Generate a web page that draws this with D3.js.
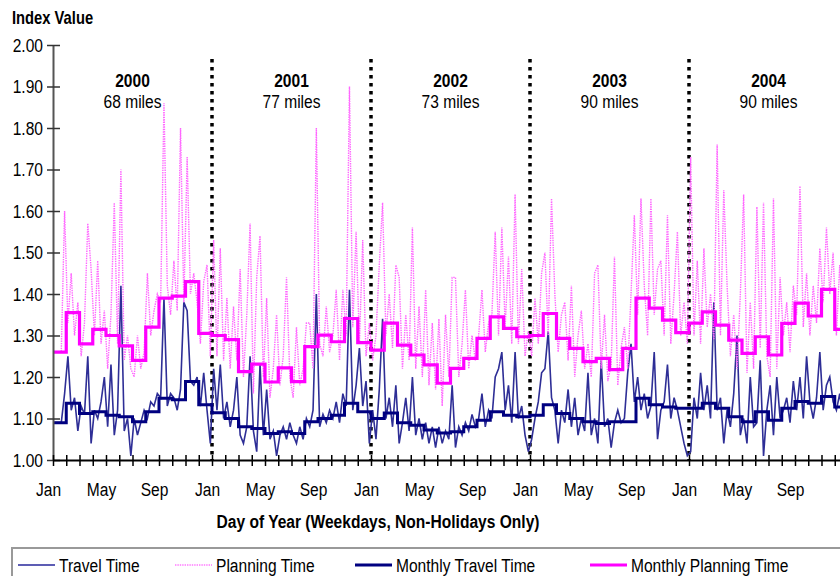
<!DOCTYPE html>
<html>
  <head>
    <meta charset="utf-8">
    <title>Travel Time and Planning Time Index</title>
    <script src="https://cdnjs.cloudflare.com/ajax/libs/d3/7.8.5/d3.min.js"></script>
    <style>
      body { margin: 0; background: #fff; }
      svg { display: block; font-family: "Liberation Sans", Arial, sans-serif; }
    </style>
  </head>
  <body>
    <script>

      // ---- data ----
      var years = [2000, 2001, 2002, 2003, 2004];
      var yearMiles = ["68 miles", "77 miles", "73 miles", "90 miles", "90 miles"];
      var monthNames = ["Jan", "Feb", "Mar", "Apr", "May", "Jun", "Jul", "Aug", "Sep", "Oct", "Nov", "Dec"];
      var yTicks = [1.0, 1.1, 1.2, 1.3, 1.4, 1.5, 1.6, 1.7, 1.8, 1.9, 2.0];

      // weekday index values, sampled four times a month
      var travel2000 = [1.09,1.09,1.09,1.16, 1.25,1.12,1.15,1.07, 1.13,1.11,1.25,1.04, 1.12,1.10,1.14,1.20,
                        1.08,1.23,1.06,1.12, 1.42,1.07,1.10,1.01, 1.10,1.06,1.09,1.12, 1.10,1.14,1.13,1.16,
                        1.15,1.39,1.13,1.16, 1.15,1.12,1.17,1.38, 1.36,1.19,1.18,1.20, 1.13,1.21,1.12,1.04];
      var travel2001 = [1.22,1.12,1.23,1.10, 1.14,1.08,1.12,1.20, 1.06,1.04,1.08,1.25, 1.07,1.02,1.23,1.06,
                        1.17,1.05,1.07,1.01, 1.06,1.08,1.05,1.09, 1.06,1.04,1.08,1.05, 1.10,1.08,1.12,1.40,
                        1.08,1.11,1.09,1.12, 1.10,1.14,1.09,1.16, 1.13,1.41,1.12,1.18, 1.27,1.13,1.19,1.04];
      var travel2002 = [1.12,1.05,1.17,1.34, 1.10,1.15,1.08,1.18, 1.04,1.09,1.15,1.07, 1.20,1.06,1.10,1.05,
                        1.09,1.04,1.08,1.03, 1.08,1.04,1.07,1.05, 1.18,1.03,1.08,1.06, 1.09,1.07,1.11,1.08,
                        1.10,1.16,1.08,1.12, 1.10,1.20,1.22,1.26, 1.12,1.18,1.09,1.26, 1.10,1.13,1.06,1.02];
      var travel2003 = [1.05,1.10,1.14,1.21, 1.22,1.31,1.15,1.12, 1.04,1.12,1.09,1.17, 1.08,1.15,1.06,1.10,
                        1.07,1.21,1.06,1.10, 1.04,1.24,1.08,1.10, 1.03,1.09,1.12,1.09, 1.10,1.21,1.28,1.14,
                        1.20,1.12,1.16,1.10, 1.13,1.26,1.05,1.12, 1.14,1.23,1.10,1.15, 1.12,1.08,1.04,1.01];
      var travel2004 = [1.02,1.15,1.10,1.21, 1.12,1.18,1.10,1.38, 1.12,1.15,1.04,1.12, 1.08,1.16,1.30,1.06,
                        1.10,1.04,1.20,1.08, 1.09,1.24,1.01,1.12, 1.18,1.06,1.20,1.10, 1.12,1.15,1.09,1.19,
                        1.12,1.20,1.10,1.25, 1.14,1.10,1.15,1.26, 1.12,1.18,1.20,1.14, 1.12,1.16,1.10,1.12];

      var planning2000 = [1.26,1.26,1.26,1.60, 1.33,1.45,1.30,1.38, 1.25,1.33,1.57,1.46, 1.30,1.48,1.28,1.36,
                          1.22,1.35,1.62,1.28, 1.70,1.24,1.30,1.22, 1.20,1.30,1.22,1.26, 1.45,1.30,1.36,1.40,
                          1.38,1.86,1.42,1.35, 1.48,1.36,1.80,1.38, 1.73,1.40,1.45,1.38, 1.28,1.43,1.47,1.25];
      var planning2001 = [1.53,1.25,1.51,1.24, 1.39,1.22,1.37,1.24, 1.46,1.20,1.35,1.57, 1.16,1.44,1.54,1.20,
                          1.39,1.15,1.22,1.35, 1.18,1.25,1.44,1.20, 1.15,1.32,1.18,1.22, 1.33,1.33,1.22,1.80,
                          1.28,1.25,1.37,1.26, 1.30,1.41,1.24,1.41, 1.30,1.90,1.32,1.55, 1.28,1.53,1.25,1.33];
      var planning2002 = [1.24,1.30,1.47,1.62, 1.30,1.40,1.27,1.47, 1.44,1.22,1.35,1.24, 1.56,1.22,1.37,1.20,
                          1.41,1.18,1.33,1.17, 1.34,1.13,1.35,1.20, 1.44,1.44,1.20,1.28, 1.41,1.22,1.30,1.24,
                          1.30,1.41,1.26,1.33, 1.35,1.55,1.30,1.56, 1.32,1.49,1.28,1.64, 1.28,1.46,1.25,1.31];
      var planning2003 = [1.25,1.39,1.28,1.45, 1.50,1.30,1.63,1.40, 1.26,1.35,1.38,1.24, 1.42,1.20,1.30,1.36,
                          1.22,1.28,1.20,1.45, 1.47,1.22,1.35,1.19, 1.23,1.49,1.18,1.27, 1.32,1.22,1.40,1.59,
                          1.35,1.63,1.42,1.30, 1.63,1.35,1.46,1.48, 1.30,1.59,1.28,1.40, 1.55,1.30,1.38,1.28];
      var planning2004 = [1.73,1.30,1.48,1.28, 1.51,1.32,1.40,1.29, 1.76,1.30,1.65,1.42, 1.25,1.35,1.22,1.40,
                          1.64,1.21,1.38,1.22, 1.61,1.27,1.62,1.25, 1.20,1.63,1.22,1.44, 1.30,1.38,1.26,1.42,
                          1.35,1.66,1.32,1.45, 1.30,1.42,1.33,1.51, 1.38,1.56,1.40,1.50, 1.30,1.47,1.30,1.32];

      // monthly averages
      var monthlyTravel2000 = [1.090,1.137,1.112,1.116,1.108,1.104,1.092,1.116,1.149,1.145,1.189,1.133];
      var monthlyTravel2001 = [1.114,1.100,1.080,1.076,1.064,1.068,1.064,1.092,1.100,1.108,1.137,1.116];
      var monthlyTravel2002 = [1.100,1.113,1.090,1.084,1.072,1.065,1.068,1.080,1.096,1.116,1.108,1.104];
      var monthlyTravel2003 = [1.108,1.133,1.112,1.100,1.092,1.088,1.092,1.092,1.149,1.133,1.128,1.125];
      var monthlyTravel2004 = [1.125,1.137,1.125,1.104,1.092,1.116,1.096,1.125,1.141,1.137,1.153,1.128];

      var monthlyPlanning2000 = [1.260,1.355,1.280,1.315,1.300,1.275,1.240,1.320,1.390,1.395,1.430,1.305];
      var monthlyPlanning2001 = [1.300,1.290,1.213,1.231,1.188,1.222,1.189,1.273,1.301,1.285,1.341,1.283];
      var monthlyPlanning2002 = [1.265,1.330,1.277,1.253,1.229,1.185,1.221,1.245,1.293,1.345,1.317,1.297];
      var monthlyPlanning2003 = [1.300,1.353,1.293,1.269,1.237,1.245,1.218,1.269,1.390,1.366,1.337,1.307];
      var monthlyPlanning2004 = [1.330,1.357,1.325,1.289,1.257,1.297,1.253,1.329,1.378,1.347,1.411,1.315];

      // ---- layout ----
      var outerWidth = 840;
      var outerHeight = 576;
      var margin = { left: 53, top: 45, bottom: 116 };
      var monthWidth = 13.25;
      var nMonths = years.length * 12;
      var fontSize = 19;
      var narrow = 0.82;   // squeeze Liberation Sans into an Arial Narrow look

      var svg = d3.select("body").append("svg")
        .attr("width", outerWidth)
        .attr("height", outerHeight);

      var xScale = d3.scaleLinear().domain([0, nMonths])
        .range([margin.left, margin.left + nMonths * monthWidth]);
      var yScale = d3.scaleLinear().domain([1, 2])
        .range([outerHeight - margin.bottom, margin.top]);

      // turn per-year arrays into points (x in months since Jan 2000)
      function dailyPoints(arrays) {
        var pts = [];
        arrays.forEach(function (arr, i) {
          arr.forEach(function (v, q) {
            pts.push({ m: i * 12 + (q + 0.5) * 12 / arr.length, v: v });
          });
        });
        return pts;
      }
      function monthlyPoints(arrays) {
        var pts = [];
        arrays.forEach(function (arr, i) {
          arr.forEach(function (v, k) { pts.push({ m: i * 12 + k, v: v }); });
        });
        pts.push({ m: nMonths, v: pts[pts.length - 1].v });
        return pts;
      }

      var travel = dailyPoints([travel2000, travel2001, travel2002, travel2003, travel2004]);
      var planning = dailyPoints([planning2000, planning2001, planning2002, planning2003, planning2004]);
      var monthlyTravel = monthlyPoints([monthlyTravel2000, monthlyTravel2001, monthlyTravel2002, monthlyTravel2003, monthlyTravel2004]);
      var monthlyPlanning = monthlyPoints([monthlyPlanning2000, monthlyPlanning2001, monthlyPlanning2002, monthlyPlanning2003, monthlyPlanning2004]);

      var line = d3.line()
        .x(function (d) { return xScale(d.m); })
        .y(function (d) { return yScale(d.v); });
      var stepLine = d3.line()
        .curve(d3.curveStepAfter)
        .x(function (d) { return xScale(d.m); })
        .y(function (d) { return yScale(d.v); });

      // series styles (legend order)
      var series = [
        { name: "Travel Time", data: travel, path: line, color: "#2e2e96", key: "#5d5db4", width: 1.6, dash: null },
        { name: "Planning Time", data: planning, path: line, color: "#ff66ff", key: "#ff99ff", width: 1.4, dash: "1.4,1" },
        { name: "Monthly Travel Time", data: monthlyTravel, path: stepLine, color: "#000080", key: "#000080", width: 3, dash: null },
        { name: "Monthly Planning Time", data: monthlyPlanning, path: stepLine, color: "#ff00ff", key: "#ff00ff", width: 3.2, dash: null }
      ];

      // year separators
      svg.append("g").selectAll("line")
        .data(years.slice(1))
        .enter().append("line")
          .attr("x1", function (d, i) { return xScale((i + 1) * 12); })
          .attr("x2", function (d, i) { return xScale((i + 1) * 12); })
          .attr("y1", 59)
          .attr("y2", yScale(1))
          .attr("stroke", "#000")
          .attr("stroke-width", 3.5)
          .attr("stroke-dasharray", "3.5,4.5");

      // plotted series
      svg.append("g").selectAll("path")
        .data(series)
        .enter().append("path")
          .attr("d", function (s) { return s.path(s.data); })
          .attr("fill", "none")
          .attr("stroke", function (s) { return s.color; })
          .attr("stroke-width", function (s) { return s.width; })
          .attr("stroke-dasharray", function (s) { return s.dash; });

      // y axis
      var yAxisG = svg.append("g")
        .attr("transform", "translate(" + margin.left + ",0)")
        .call(d3.axisLeft(yScale).tickValues(yTicks).tickSize(6).tickSizeOuter(0)
          .tickPadding(4).tickFormat(d3.format(".2f")));
      yAxisG.select(".domain").attr("stroke", "#555").attr("stroke-width", 2);
      yAxisG.selectAll(".tick line").attr("x1", 7).attr("x2", -6).attr("stroke", "#333").attr("stroke-width", 1.5);
      yAxisG.selectAll(".tick text").attr("font-size", fontSize).attr("fill", "#000");
      yAxisG.attr("font-family", null);

      // x axis: a tick at every month, a label every four months
      var xAxisG = svg.append("g")
        .attr("transform", "translate(0," + yScale(1) + ")")
        .call(d3.axisBottom(xScale).tickValues(d3.range(0, nMonths + 1)).tickSize(6).tickSizeOuter(0)
          .tickFormat(function (m) { return (m % 4 === 0 && m < nMonths) ? monthNames[m % 12] : ""; }));
      xAxisG.select(".domain").attr("stroke", "#000").attr("stroke-width", 2);
      xAxisG.selectAll(".tick line").attr("y1", -5).attr("y2", 6).attr("stroke", "#000").attr("stroke-width", 1.5);
      xAxisG.selectAll(".tick text").attr("font-size", fontSize).attr("fill", "#000")
        .attr("y", 36).attr("dy", null).attr("dx", -5 / narrow);
      xAxisG.attr("font-family", null);

      // year headings
      var yearG = svg.append("g").attr("text-anchor", "middle");
      yearG.selectAll("text.year")
        .data(years)
        .enter().append("text")
          .attr("class", "year")
          .attr("x", function (d, i) { return xScale(i * 12 + 6); })
          .attr("y", 87)
          .attr("font-size", fontSize)
          .attr("font-weight", "bold")
          .text(function (d) { return d; });
      yearG.selectAll("text.miles")
        .data(yearMiles)
        .enter().append("text")
          .attr("class", "miles")
          .attr("x", function (d, i) { return xScale(i * 12 + 6); })
          .attr("y", 108)
          .attr("font-size", fontSize)
          .text(function (d) { return d; });

      // titles
      svg.append("text")
        .attr("x", 12).attr("y", 24)
        .attr("font-size", 18).attr("font-weight", "bold")
        .text("Index Value");
      svg.append("text")
        .attr("x", 378).attr("y", 528)
        .attr("text-anchor", "middle")
        .attr("font-size", fontSize).attr("font-weight", "bold")
        .text("Day of Year (Weekdays, Non-Holidays Only)");

      // legend
      var legendX = [18, 175, 355, 590];
      svg.append("rect")
        .attr("x", 12).attr("y", 548)
        .attr("width", 840).attr("height", 40)
        .attr("fill", "none").attr("stroke", "#999").attr("stroke-width", 2);
      var legend = svg.append("g").selectAll("g")
        .data(series)
        .enter().append("g")
          .attr("transform", function (d, i) { return "translate(" + legendX[i] + ",0)"; });
      legend.append("line")
        .attr("x1", 0).attr("x2", 37)
        .attr("y1", 565).attr("y2", 565)
        .attr("stroke", function (s) { return s.key; })
        .attr("stroke-width", function (s) { return s.width < 2 ? 2 : 3; })
        .attr("stroke-dasharray", function (s) { return s.dash; });
      legend.append("text")
        .attr("x", 41).attr("y", 572)
        .attr("font-size", fontSize)
        .text(function (s) { return s.name; });

      // squeeze every label horizontally around its own anchor point
      svg.selectAll("text").each(function () {
        var t = d3.select(this);
        var tx = +t.attr("x") || 0, ty = +t.attr("y") || 0;
        t.attr("x", 0).attr("y", 0)
          .attr("transform", "translate(" + tx + "," + ty + ") scale(" + narrow + ",1)");
      });

    </script>
  </body>
</html>
